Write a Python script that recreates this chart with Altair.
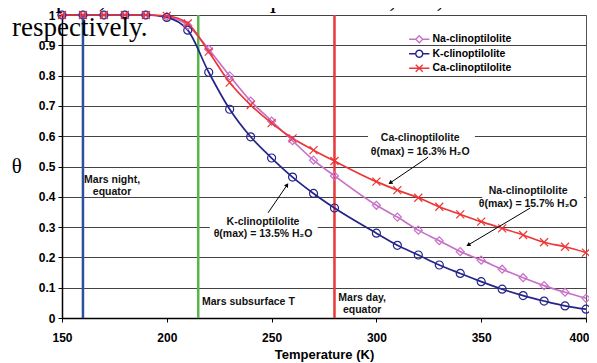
import math
import altair as alt
import pandas as pd

# ---------------- data ----------------
temps = [150, 160, 170, 180, 190, 200, 210, 220, 230, 240, 250, 260, 270, 280,
         300, 310, 320, 330, 340, 350, 360, 370, 380, 390, 400]
na_vals = [1, 1, 1, 1, 1, 0.995, 0.965, 0.887, 0.799, 0.716, 0.650, 0.585, 0.521, 0.469,
           0.372, 0.333, 0.290, 0.255, 0.219, 0.191, 0.161, 0.133, 0.107, 0.085, 0.065]
k_vals = [1, 1, 1, 1, 1, 0.992, 0.950, 0.811, 0.689, 0.598, 0.528, 0.465, 0.411, 0.363,
          0.280, 0.240, 0.208, 0.175, 0.147, 0.120, 0.095, 0.074, 0.056, 0.040, 0.029]
ca_vals = [1, 1, 1, 1, 1, 0.997, 0.972, 0.879, 0.777, 0.703, 0.643, 0.593, 0.554, 0.518,
           0.450, 0.422, 0.397, 0.367, 0.342, 0.318, 0.296, 0.274, 0.250, 0.235, 0.216]

series_names = ["Na-clinoptilolite", "K-clinoptilolite", "Ca-clinoptilolite"]
series_colors = ["#C870C8", "#24248A", "#EE3535"]

x_ticks = [150, 200, 250, 300, 350, 400]
y_ticks = [0, 0.1, 0.2, 0.3, 0.4, 0.5, 0.6, 0.7, 0.8, 0.9, 1.0]

mars_T = [160, 215, 280]
mars_colors = ["#2E4E9E", "#55B848", "#E8383A"]

# annotation texts (x in K, y in theta units)
ann_T = [173.9, 173.9, 216.8, 293.2, 293.2, 245.9, 245.9, 320.9, 320.9, 372.4, 372.4]
ann_y = [0.455, 0.417, 0.053, 0.066, 0.027, 0.317, 0.278, 0.594, 0.548, 0.419, 0.376]
ann_text = ["Mars night,", "equator", "Mars subsurface T", "Mars day,", "equator",
            "K-clinoptilolite", "θ(max) = 13.5% H₂O",
            "Ca-clinoptilolite", "θ(max) = 16.3% H₂O",
            "Na-clinoptilolite", "θ(max) = 15.7% H₂O"]
ann_align = ["center", "center", "left", "center", "center",
             "center", "center", "center", "center", "center", "center"]

# white label boxes behind the three series notes
box_x0 = [220.5, 296.0, 350.5]
box_x1 = [272.0, 347.0, 399.0]
box_y0 = [0.262, 0.530, 0.356]
box_y1 = [0.343, 0.618, 0.440]

# arrows: start -> end
arr_x0 = [248.3, 324.7, 373.4]
arr_y0 = [0.347, 0.531, 0.363]
arr_x1 = [257.4, 306.6, 343.8]
arr_y1 = [0.439, 0.446, 0.241]

para_lines = ["samples, these values equate to 7.4, 4.9, and 8.3 wt. %", "respectively."]

# ---------------- build tables ----------------
rows = []
for name, vals in zip(series_names, [na_vals, k_vals, ca_vals]):
    for t, v in zip(temps, vals):
        rows.append({"series": name, "T": t, "theta": v})
df = pd.DataFrame(rows)

W, H = 524, 303
xd, yd = (150, 400), (0, 1)
px_x = W / (xd[1] - xd[0])
px_y = H / (yd[1] - yd[0])

arrows = pd.DataFrame({"x0": arr_x0, "y0": arr_y0, "x1": arr_x1, "y1": arr_y1})
arrows["ang"] = [
    (math.degrees(math.atan2((b - a) * px_x, (d - c) * px_y)) + 360) % 360
    for a, b, c, d in zip(arr_x0, arr_x1, arr_y0, arr_y1)
]
boxes = pd.DataFrame({"x0": box_x0, "x1": box_x1, "y0": box_y0, "y1": box_y1})
ann = pd.DataFrame({"T": ann_T, "theta": ann_y, "text": ann_text, "align": ann_align})
mars = pd.DataFrame({"T": mars_T, "c": mars_colors})

FONT = "Liberation Sans"

xscale = alt.Scale(domain=list(xd), nice=False, zero=False)
yscale = alt.Scale(domain=list(yd), nice=False)

xaxis = alt.Axis(values=x_ticks, title="Temperature (K)", grid=False,
                 labelFontSize=12, labelFontWeight="bold", labelFont=FONT,
                 labelColor="black", labelPadding=10, tickSize=4,
                 tickColor="black", domainColor="black", domainWidth=1.5,
                 titleFont=FONT, titleFontSize=13, titleFontWeight="bold",
                 titleColor="black", titlePadding=5, labelFlush=False,
                 labelOverlap=False,
                 labelAlign={"condition": {"test": "datum.value >= 400", "value": "right"},
                             "value": "center"},
                 labelOffset={"condition": {"test": "datum.value >= 400", "value": 3},
                              "value": 0})
yaxis = alt.Axis(values=y_ticks, format=".1~f", title="θ", grid=True,
                 gridColor="#444444", gridWidth=1, tickCount=11,
                 labelFontSize=12, labelFontWeight="bold", labelFont=FONT,
                 labelColor="black", labelPadding=3, tickSize=4,
                 tickColor="black", domainColor="black", domainWidth=1.5,
                 titleFont="Liberation Serif", titleFontSize=21,
                 titleFontWeight="normal", titleColor="black",
                 titleAngle=0, titleBaseline="middle", titlePadding=22,
                 labelOverlap=False)


def XF(field):
    return alt.X(field, scale=xscale, axis=xaxis, title="Temperature (K)")


def YF(field):
    return alt.Y(field, scale=yscale, axis=yaxis, title="θ")


color_scale = alt.Scale(domain=series_names, range=series_colors)

base = alt.Chart(df)

vlines = alt.Chart(mars).mark_rule(strokeWidth=2.5).encode(
    x=XF("T:Q"),
    color=alt.Color("c:N", scale=None, legend=None),
)

rects = alt.Chart(boxes).mark_rect(color="white").encode(
    x=XF("x0:Q"), x2="x1:Q",
    y=YF("y0:Q"), y2="y1:Q",
)

lines = base.mark_line(interpolate="monotone", strokeWidth=1.7).encode(
    x=XF("T:Q"), y=YF("theta:Q"),
    color=alt.Color("series:N", scale=color_scale, legend=None),
    detail="series:N",
)

xpath = "M-1,-1L1,1M-1,1L1,-1"
points = base.mark_point(filled=False, size=64, strokeWidth=1.2, opacity=1).encode(
    x=XF("T:Q"), y=YF("theta:Q"),
    color=alt.Color("series:N", scale=color_scale, legend=None),
    shape=alt.Shape("series:N",
                    scale=alt.Scale(domain=series_names,
                                    range=["diamond", "circle", xpath]),
                    legend=None),
)

# legend symbols: line through marker
L = 2.9
circle_pts = " ".join(
    ("M" if i == 0 else "L") + f"{math.cos(2*math.pi*i/20):.3f},{math.sin(2*math.pi*i/20):.3f}"
    for i in range(20)) + "Z"
leg_shapes = [
    f"M-{L},0L-1,0M1,0L{L},0M0,-1L1,0L0,1L-1,0Z",
    f"M-{L},0L-1,0M1,0L{L},0" + circle_pts,
    f"M-{L},0L{L},0" + xpath,
]
leg = alt.Legend(title=None, orient="none", legendX=352, legendY=19,
                 symbolSize=49, symbolStrokeWidth=1.4,
                 symbolOpacity=1, labelFont=FONT, labelFontSize=10.5,
                 labelFontWeight="bold", labelColor="black",
                 labelOffset=8, rowPadding=0.5)
legend_layer = alt.Chart(pd.DataFrame({"series": series_names, "T": [150]*3, "theta": [1]*3})
                         ).mark_point(filled=False, opacity=0).encode(
    x=XF("T:Q"), y=YF("theta:Q"),
    color=alt.Color("series:N", scale=color_scale, legend=leg),
    shape=alt.Shape("series:N", scale=alt.Scale(domain=series_names, range=leg_shapes),
                    legend=leg),
)


def text_layer(align):
    return alt.Chart(ann[ann["align"] == align]).mark_text(
        font=FONT, fontSize=10.5, fontWeight="bold", color="#111111",
        baseline="middle", align=align).encode(
        x=XF("T:Q"), y=YF("theta:Q"),
        text="text:N",
    )


texts_c = text_layer("center")
texts_l = text_layer("left")

arrow_lines = alt.Chart(arrows).mark_rule(color="black", strokeWidth=1).encode(
    x=XF("x0:Q"), x2="x1:Q",
    y=YF("y0:Q"), y2="y1:Q",
)
arrow_heads = alt.Chart(arrows).mark_point(shape="triangle-up", filled=True,
                                           color="black", size=22, opacity=1).encode(
    x=XF("x1:Q"), y=YF("y1:Q"),
    angle=alt.Angle("ang:Q", scale=None),
)

para_layers = []
for txt, py in zip(para_lines, [-8, 21]):
    para_layers.append(
        alt.Chart(pd.DataFrame({"text": [txt]})).mark_text(
            font="Liberation Serif", fontSize=27, align="left",
            baseline="alphabetic", color="black").encode(
            x=alt.value(-50), y=alt.value(py), text="text:N")
    )

chart = alt.layer(
    vlines, rects, lines, points, legend_layer, texts_c, texts_l,
    arrow_lines, arrow_heads, *para_layers
).resolve_scale(
    color="independent", shape="independent"
).properties(
    width=W, height=H,
    background="white",
    autosize=alt.AutoSizeParams(type="none"),
    padding={"left": 54, "top": 7, "right": 3, "bottom": 45},
).configure_view(
    stroke="#555555", strokeWidth=1
)

chart.save("out.html", embed_options={"renderer": "svg", "actions": False})
